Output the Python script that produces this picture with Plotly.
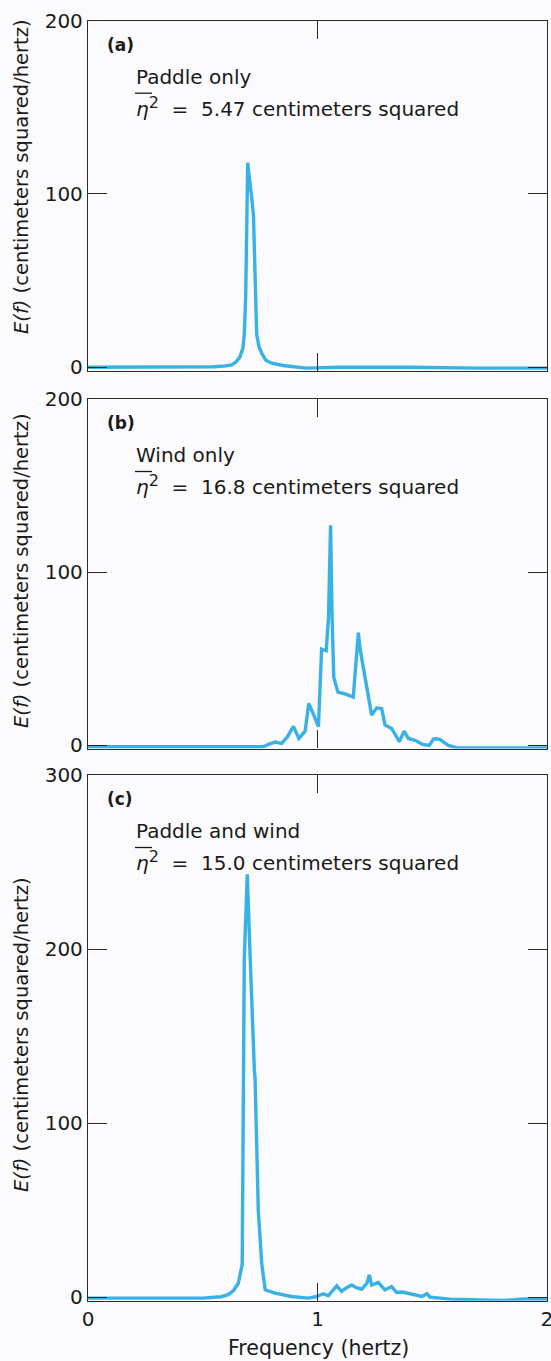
import plotly.graph_objects as go

# ---------------- data ----------------
freq_a = [0.0, 0.2, 0.4, 0.55, 0.6, 0.626, 0.645, 0.662, 0.675, 0.681, 0.687, 0.691,
          0.696, 0.701, 0.706, 0.714, 0.721, 0.725, 0.728, 0.735, 0.745, 0.757, 0.775,
          0.8, 0.85, 0.95, 1.1, 1.4, 1.7, 2.0]
E_a = [0.0, 0.0, 0.0, 0.3, 0.8, 1.4, 3, 6, 11, 19, 40, 88,
       118, 112, 107, 97, 88, 65, 40, 19, 12, 8, 4,
       2.3, 1, -0.5, 0, 0, -0.5, -0.5]

freq_b = [0.0, 0.3, 0.6, 0.763, 0.786, 0.815, 0.844, 0.870, 0.895, 0.919, 0.946, 0.962,
          0.985, 1.004, 1.018, 1.038, 1.048, 1.057, 1.064, 1.071, 1.089, 1.12, 1.156,
          1.178, 1.185, 1.236, 1.258, 1.28, 1.294, 1.323, 1.357, 1.377, 1.396, 1.425,
          1.458, 1.487, 1.505, 1.52, 1.534, 1.57, 1.606, 1.8, 2.0]
E_b = [-1, -1, -1, -1, 0.4, 1.7, 1, 5, 10.8, 3.8, 8, 24,
       17, 10.6, 55.4, 54.5, 73.5, 127, 71.6, 39, 30.6, 29.6, 27.7,
       65, 56, 17.3, 21.5, 21, 11.6, 9.6, 2, 8, 3.8, 2.7,
       0.4, -0.2, 3.4, 3.6, 3.2, -0.2, -1.5, -1.5, -1.7]

freq_c = [0.0, 0.3, 0.5, 0.58, 0.611, 0.635, 0.655, 0.672, 0.677, 0.681, 0.694, 0.698,
          0.707, 0.725, 0.728, 0.742, 0.757, 0.772, 0.815, 0.886, 0.96, 0.996, 1.025,
          1.047, 1.084, 1.105, 1.127, 1.149, 1.17, 1.193, 1.215, 1.226, 1.236, 1.265,
          1.294, 1.323, 1.345, 1.37, 1.396, 1.42, 1.455, 1.477, 1.49, 1.577, 1.693,
          1.81, 1.9, 2.0]
E_c = [-0.5, -0.5, -0.5, 0.3, 1.5, 4, 8, 19, 130, 194, 243, 225,
       194, 130, 126, 50, 19.4, 4.3, 2.3, 0.4, -0.5, 0.4, 2,
       0.8, 6.5, 3.3, 5.5, 7, 5.5, 4.6, 8, 12.8, 7, 8.4,
       4.2, 6.1, 2.7, 3, 2.3, 1.2, 0.4, 2, 0, -1.1, -1.5,
       -1.9, -1, -1]

x_ticks = [0, 1, 2]
x_tick_labels = ["0", "1", "2"]
y_ticks_ab = [0, 100, 200]
y_ticks_c = [0, 100, 200, 300]

panel_tags = ["(a)", "(b)", "(c)"]
panel_names = ["Paddle only", "Wind only", "Paddle and wind"]
variances = ["5.47", "16.8", "15.0"]

# ---------------- styling ----------------
W, H = 551, 1361
ML, MR, MT, MB = 88, 4, 20, 60
PW = W - ML - MR
PH = H - MT - MB
LINE_COLOR = "#38b2e6"
AX_COLOR = "#2b2b2b"
TXT = "#1a1a1a"
BG = "#fbfafc"
FONT = "DejaVu Sans"


def py2paper(py):
    return (H - MB - py) / PH


def px2paper(px):
    return (px - ML) / PW


# panel boxes in pixel rows (top, bottom)
boxes = [(20.7, 370.7), (399.0, 748.5), (775.0, 1300.7)]

fig = go.Figure()
series = [(freq_a, E_a), (freq_b, E_b), (freq_c, E_c)]
for i, (f, e) in enumerate(series):
    sfx = "" if i == 0 else str(i + 1)
    fig.add_trace(go.Scatter(x=f, y=e, mode="lines",
                             line=dict(color=LINE_COLOR, width=3.4, shape="linear"),
                             xaxis="x" + sfx, yaxis="y" + sfx,
                             showlegend=False, hoverinfo="skip"))

layout = dict(width=W, height=H, margin=dict(l=ML, r=MR, t=MT, b=MB, autoexpand=False),
              paper_bgcolor=BG, plot_bgcolor=BG,
              font=dict(family=FONT, size=20, color=TXT),
              showlegend=False)

annotations = []
shapes = []
for i, (top, bot) in enumerate(boxes):
    sfx = "" if i == 0 else str(i + 1)
    yr = [-2, 300] if i == 2 else [-2, 200]
    yt = y_ticks_c if i == 2 else y_ticks_ab
    layout["xaxis" + sfx] = dict(
        domain=[0, 1], range=[0, 2.0001], anchor="y" + sfx,
        tickvals=x_ticks, ticktext=x_tick_labels, automargin=False,
        showticklabels=(i == 2), ticklabeloverflow="allow",
        ticks="inside", ticklen=18, tickwidth=1.3, tickcolor=AX_COLOR,
        showline=True, linecolor=AX_COLOR, linewidth=1.3, mirror="ticks",
        showgrid=False, zeroline=False,
        tickfont=dict(family=FONT, size=20, color=TXT))
    layout["yaxis" + sfx] = dict(
        domain=[max(0, py2paper(bot)), min(1, py2paper(top))], range=yr,
        anchor="x" + sfx, tickvals=yt, ticktext=[str(v) for v in yt],
        automargin=False,
        ticks="inside", ticklen=19, tickwidth=1.3, tickcolor=AX_COLOR,
        showline=True, linecolor=AX_COLOR, linewidth=1.3, mirror="ticks",
        showgrid=False, zeroline=False,
        tickfont=dict(family=FONT, size=20, color=TXT))

    # panel texts
    annotations.append(dict(text="<b>" + panel_tags[i] + "</b>", xref="paper", yref="paper",
                            x=px2paper(105), y=py2paper(top + 24), xanchor="left",
                            yanchor="middle", showarrow=False,
                            font=dict(family=FONT, size=17, color=TXT)))
    annotations.append(dict(text=panel_names[i], xref="paper", yref="paper",
                            x=px2paper(134), y=py2paper(top + 56), xanchor="left",
                            yanchor="middle", showarrow=False,
                            font=dict(family=FONT, size=20, color=TXT)))
    eq = ("<i>η</i><sup><span style='font-size:16px'>2</span></sup>"
          "\u00a0\u00a0=\u00a0\u00a0" + variances[i] + " centimeters squared")
    annotations.append(dict(text=eq, xref="paper", yref="paper",
                            x=px2paper(134), y=py2paper(top + 86), xanchor="left",
                            yanchor="middle", showarrow=False,
                            font=dict(family=FONT, size=20, color=TXT)))
    # overline above eta^2
    shapes.append(dict(type="line", xref="paper", yref="paper",
                       x0=px2paper(135), x1=px2paper(152),
                       y0=py2paper(top + 72.5), y1=py2paper(top + 72.5),
                       line=dict(color=TXT, width=1.3)))

# y-axis titles
title_centers = [177, 571, 1035]
for c in title_centers:
    annotations.append(dict(text="<i>E(f)</i> (centimeters squared/hertz)",
                            xref="paper", yref="paper", x=px2paper(21), y=py2paper(c),
                            xanchor="center", yanchor="middle", textangle=-90,
                            showarrow=False,
                            font=dict(family=FONT, size=19.5, color=TXT)))

# x-axis title
annotations.append(dict(text="Frequency (hertz)", xref="paper", yref="paper",
                        x=px2paper(318), y=py2paper(1348), xanchor="center",
                        yanchor="middle", showarrow=False,
                        font=dict(family=FONT, size=20.5, color=TXT)))

layout["annotations"] = annotations
layout["shapes"] = shapes
fig.update_layout(**layout)
fig.write_html("out.html")
